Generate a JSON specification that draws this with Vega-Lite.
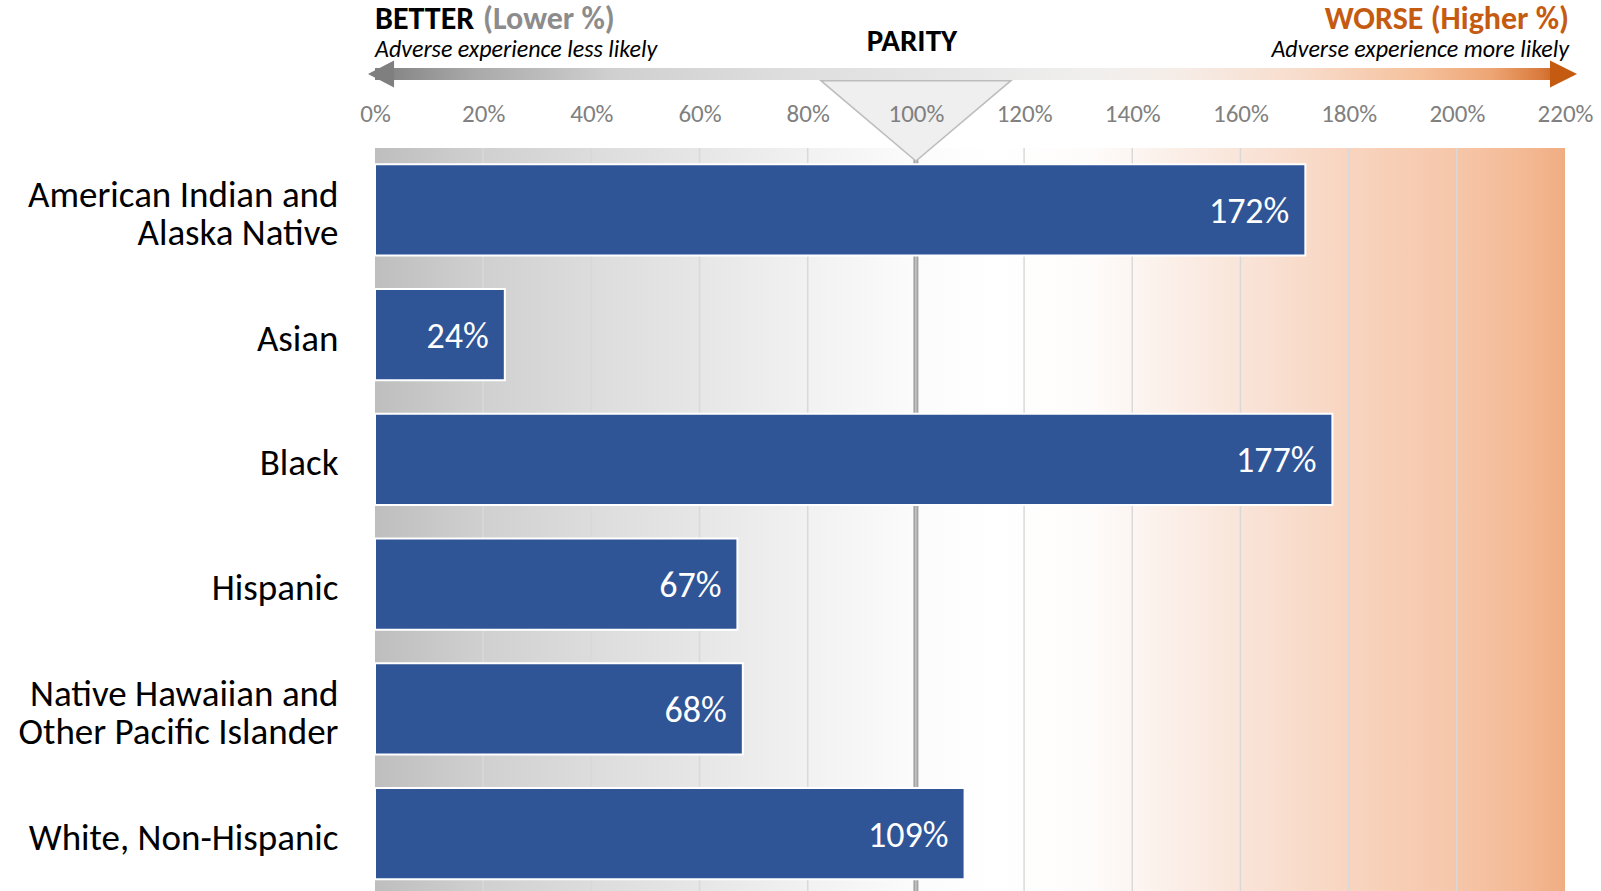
{
  "$schema": "https://vega.github.io/schema/vega-lite/v6.json",
  "width": 1190,
  "height": 743,
  "autosize": {"type": "none"},
  "padding": {"left": 375, "top": 148, "right": 36, "bottom": 0},
  "background": "white",
  "config": {
    "font": "Carlito, Lato, sans-serif",
    "view": {"stroke": null},
    "axisX": {"labelColor": "#808080", "labelFontSize": 25, "ticks": false, "domain": false, "grid": false, "labelPadding": 22, "labelFlush": false, "labelOverlap": false}
  },
  "datasets": {
    "rates": [
      {"group": "American Indian and|Alaska Native", "value": 172, "label": "172%"},
      {"group": "Asian", "value": 24, "label": "24%"},
      {"group": "Black", "value": 177, "label": "177%"},
      {"group": "Hispanic", "value": 67, "label": "67%"},
      {"group": "Native Hawaiian and|Other Pacific Islander", "value": 68, "label": "68%"},
      {"group": "White, Non-Hispanic", "value": 109, "label": "109%"}
    ],
    "span": [{"from": 0, "to": 220}],
    "gridlines": [{"pct": 20}, {"pct": 40}, {"pct": 60}, {"pct": 80}, {"pct": 120}, {"pct": 140}, {"pct": 160}, {"pct": 180}, {"pct": 200}],
    "parity": [{"pct": 100}]
  },
  "layer": [
    {
      "data": {"name": "span"},
      "mark": {
        "type": "rect",
        "fill": {
          "gradient": "linear", "x1": 0, "y1": 0, "x2": 1, "y2": 0,
          "stops": [
            {"offset": 0, "color": "#bebebe"},
            {"offset": 0.09, "color": "#d0d0d0"},
            {"offset": 0.18, "color": "#dcdcdc"},
            {"offset": 0.27, "color": "#e6e6e6"},
            {"offset": 0.36, "color": "#f1f1f1"},
            {"offset": 0.45, "color": "#fbfbfb"},
            {"offset": 0.52, "color": "#ffffff"},
            {"offset": 0.6, "color": "#fefcfb"},
            {"offset": 0.65, "color": "#fcf3ee"},
            {"offset": 0.73, "color": "#f9e4d8"},
            {"offset": 0.82, "color": "#f8d4bf"},
            {"offset": 0.91, "color": "#f6c6a9"},
            {"offset": 0.97, "color": "#f3b892"},
            {"offset": 1, "color": "#f0ad82"}
          ]
        }
      },
      "encoding": {
        "x": {"field": "from", "type": "quantitative", "scale": {"domain": [0, 220], "nice": false},
          "axis": {"orient": "top", "values": [0, 20, 40, 60, 80, 100, 120, 140, 160, 180, 200, 220], "labelExpr": "datum.value + '%'", "title": null, "labelFlush": false, "labelOverlap": false, "zindex": 1}},
        "x2": {"field": "to"}
      }
    },
    {
      "data": {"name": "gridlines"},
      "mark": {"type": "rule", "color": "#d9d9d9", "strokeWidth": 1.5},
      "encoding": {
        "x": {"field": "pct", "type": "quantitative", "scale": {"domain": [0, 220], "nice": false},
          "axis": {"orient": "top", "values": [0, 20, 40, 60, 80, 100, 120, 140, 160, 180, 200, 220], "labelExpr": "datum.value + '%'", "title": null, "labelFlush": false, "labelOverlap": false, "zindex": 1}}
      }
    },
    {
      "data": {"name": "parity"},
      "mark": {"type": "rule", "color": "#a3a3a3", "strokeWidth": 5},
      "encoding": {
        "x": {"field": "pct", "type": "quantitative", "scale": {"domain": [0, 220], "nice": false},
          "axis": {"orient": "top", "values": [0, 20, 40, 60, 80, 100, 120, 140, 160, 180, 200, 220], "labelExpr": "datum.value + '%'", "title": null, "labelFlush": false, "labelOverlap": false, "zindex": 1}}
      }
    },
    {
      "data": {"name": "parity"},
      "mark": {"type": "rule", "color": "#c4c4c4", "strokeWidth": 1.5},
      "encoding": {
        "x": {"field": "pct", "type": "quantitative", "scale": {"domain": [0, 220], "nice": false},
          "axis": {"orient": "top", "values": [0, 20, 40, 60, 80, 100, 120, 140, 160, 180, 200, 220], "labelExpr": "datum.value + '%'", "title": null, "labelFlush": false, "labelOverlap": false, "zindex": 1}}
      }
    },
    {
      "data": {"name": "rates"},
      "mark": {"type": "bar", "color": "#2f5597", "stroke": "white", "strokeWidth": 2},
      "encoding": {
        "y": {
          "field": "group", "type": "nominal", "sort": null,
          "scale": {"type": "band", "paddingInner": 0.27, "paddingOuter": 0.113, "align": 0.58},
          "axis": {
            "labelExpr": "split(datum.label, '|')", "labelFontSize": 37, "labelColor": "black",
            "labelPadding": 37, "ticks": false, "domain": false, "title": null,
            "labelLimit": 600, "labelLineHeight": 38, "labelAlign": "right", "labelBaseline": "middle",
            "labelOffset": {"condition": {"test": "indexof(datum.value, '|') >= 0", "value": -14}, "value": 5}
          }
        },
        "x": {"field": "value", "type": "quantitative", "scale": {"domain": [0, 220], "nice": false},
          "axis": {"orient": "top", "values": [0, 20, 40, 60, 80, 100, 120, 140, 160, 180, 200, 220], "labelExpr": "datum.value + '%'", "title": null, "labelFlush": false, "labelOverlap": false, "zindex": 1}}
      }
    },
    {
      "data": {"name": "rates"},
      "mark": {"type": "text", "align": "right", "baseline": "middle", "dx": -16, "dy": 2, "color": "white", "fontSize": 36},
      "encoding": {
        "y": {"field": "group", "type": "nominal", "sort": null, "scale": {"type": "band", "paddingInner": 0.27, "paddingOuter": 0.113, "align": 0.58}, "axis": null},
        "x": {"field": "value", "type": "quantitative", "scale": {"domain": [0, 220], "nice": false},
          "axis": {"orient": "top", "values": [0, 20, 40, 60, 80, 100, 120, 140, 160, 180, 200, 220], "labelExpr": "datum.value + '%'", "title": null, "labelFlush": false, "labelOverlap": false, "zindex": 1}},
        "text": {"field": "label"}
      }
    },
    {
      "data": {"values": [{"pct": 100, "tier": "arrow"}]},
      "mark": {"type": "point", "shape": "M-1,0.07L1,0.07L0,0.916Z", "size": 36100, "filled": true, "fill": "#efefef", "stroke": "#bdbdbd", "strokeWidth": 1.5, "opacity": 1},
      "encoding": {
        "x": {"field": "pct", "type": "quantitative", "scale": {"domain": [0, 220], "nice": false},
          "axis": {"orient": "top", "values": [0, 20, 40, 60, 80, 100, 120, 140, 160, 180, 200, 220], "labelExpr": "datum.value + '%'", "title": null, "labelFlush": false, "labelOverlap": false, "zindex": 1}},
        "y": {"field": "tier", "type": "nominal", "scale": {"type": "point", "domain": ["heading", "note", "arrow"], "range": [-129, -74], "padding": 0}, "axis": null}
      }
    },
    {
      "data": {"values": [{"pct": 220, "tier": "arrow"}]},
      "mark": {
        "type": "bar", "size": 12,
        "fill": {
          "gradient": "linear", "x1": 0, "y1": 0, "x2": 1, "y2": 0,
          "stops": [
            {"offset": 0, "color": "#7f7f7f"},
            {"offset": 0.08, "color": "#a8a8a8"},
            {"offset": 0.2, "color": "#d0d0d0"},
            {"offset": 0.35, "color": "#dedede"},
            {"offset": 0.5, "color": "#e8e8e8"},
            {"offset": 0.6, "color": "#f0efee"},
            {"offset": 0.68, "color": "#f6ece6"},
            {"offset": 0.78, "color": "#f8dccb"},
            {"offset": 0.88, "color": "#f5c09b"},
            {"offset": 0.94, "color": "#eda472"},
            {"offset": 0.98, "color": "#d97a3c"},
            {"offset": 1, "color": "#c55a11"}
          ]
        }
      },
      "encoding": {
        "x": {"field": "pct", "type": "quantitative", "scale": {"domain": [0, 220], "nice": false},
          "axis": {"orient": "top", "values": [0, 20, 40, 60, 80, 100, 120, 140, 160, 180, 200, 220], "labelExpr": "datum.value + '%'", "title": null, "labelFlush": false, "labelOverlap": false, "zindex": 1}},
        "y": {"field": "tier", "type": "nominal", "scale": {"type": "point", "domain": ["heading", "note", "arrow"], "range": [-129, -74], "padding": 0}, "axis": null}
      }
    },
    {
      "data": {"values": [{"pct": 0, "tier": "arrow"}]},
      "mark": {"type": "point", "shape": "M-0.52,0L1.41,-1L1.41,1Z", "size": 729, "filled": true, "color": "#7f7f7f", "opacity": 1, "strokeWidth": 0},
      "encoding": {
        "x": {"field": "pct", "type": "quantitative", "scale": {"domain": [0, 220], "nice": false},
          "axis": {"orient": "top", "values": [0, 20, 40, 60, 80, 100, 120, 140, 160, 180, 200, 220], "labelExpr": "datum.value + '%'", "title": null, "labelFlush": false, "labelOverlap": false, "zindex": 1}},
        "y": {"field": "tier", "type": "nominal", "scale": {"type": "point", "domain": ["heading", "note", "arrow"], "range": [-129, -74], "padding": 0}, "axis": null}
      }
    },
    {
      "data": {"values": [{"pct": 220, "tier": "arrow"}]},
      "mark": {"type": "point", "shape": "M-1.11,-1L0.89,0L-1.11,1Z", "size": 729, "filled": true, "color": "#c55a11", "opacity": 1, "strokeWidth": 0},
      "encoding": {
        "x": {"field": "pct", "type": "quantitative", "scale": {"domain": [0, 220], "nice": false},
          "axis": {"orient": "top", "values": [0, 20, 40, 60, 80, 100, 120, 140, 160, 180, 200, 220], "labelExpr": "datum.value + '%'", "title": null, "labelFlush": false, "labelOverlap": false, "zindex": 1}},
        "y": {"field": "tier", "type": "nominal", "scale": {"type": "point", "domain": ["heading", "note", "arrow"], "range": [-129, -74], "padding": 0}, "axis": null}
      }
    },
    {
      "data": {"values": [{"text": "BETTER", "pct": 0, "tier": "heading"}]},
      "mark": {"type": "text", "align": "left", "baseline": "middle", "fontSize": 32, "fontWeight": "bold", "color": "black"},
      "encoding": {
        "x": {"field": "pct", "type": "quantitative", "scale": {"domain": [0, 220], "nice": false},
          "axis": {"orient": "top", "values": [0, 20, 40, 60, 80, 100, 120, 140, 160, 180, 200, 220], "labelExpr": "datum.value + '%'", "title": null, "labelFlush": false, "labelOverlap": false, "zindex": 1}},
        "y": {"field": "tier", "type": "nominal", "scale": {"type": "point", "domain": ["heading", "note", "arrow"], "range": [-129, -74], "padding": 0}, "axis": null},
        "text": {"field": "text"}
      }
    },
    {
      "data": {"values": [{"text": "(Lower %)", "pct": 0, "tier": "heading"}]},
      "mark": {"type": "text", "align": "left", "baseline": "middle", "dx": 108, "fontSize": 32, "fontWeight": "bold", "color": "#8c8c8c"},
      "encoding": {
        "x": {"field": "pct", "type": "quantitative", "scale": {"domain": [0, 220], "nice": false},
          "axis": {"orient": "top", "values": [0, 20, 40, 60, 80, 100, 120, 140, 160, 180, 200, 220], "labelExpr": "datum.value + '%'", "title": null, "labelFlush": false, "labelOverlap": false, "zindex": 1}},
        "y": {"field": "tier", "type": "nominal", "scale": {"type": "point", "domain": ["heading", "note", "arrow"], "range": [-129, -74], "padding": 0}, "axis": null},
        "text": {"field": "text"}
      }
    },
    {
      "data": {"values": [{"text": "Adverse experience less likely", "pct": 0, "tier": "note"}]},
      "mark": {"type": "text", "align": "left", "baseline": "middle", "dy": 3, "fontSize": 24, "fontStyle": "italic", "color": "black"},
      "encoding": {
        "x": {"field": "pct", "type": "quantitative", "scale": {"domain": [0, 220], "nice": false},
          "axis": {"orient": "top", "values": [0, 20, 40, 60, 80, 100, 120, 140, 160, 180, 200, 220], "labelExpr": "datum.value + '%'", "title": null, "labelFlush": false, "labelOverlap": false, "zindex": 1}},
        "y": {"field": "tier", "type": "nominal", "scale": {"type": "point", "domain": ["heading", "note", "arrow"], "range": [-129, -74], "padding": 0}, "axis": null},
        "text": {"field": "text"}
      }
    },
    {
      "data": {"values": [{"text": "PARITY", "pct": 100, "tier": "note"}]},
      "mark": {"type": "text", "align": "center", "baseline": "middle", "dx": -4, "dy": -5, "fontSize": 31, "fontWeight": "bold", "color": "black"},
      "encoding": {
        "x": {"field": "pct", "type": "quantitative", "scale": {"domain": [0, 220], "nice": false},
          "axis": {"orient": "top", "values": [0, 20, 40, 60, 80, 100, 120, 140, 160, 180, 200, 220], "labelExpr": "datum.value + '%'", "title": null, "labelFlush": false, "labelOverlap": false, "zindex": 1}},
        "y": {"field": "tier", "type": "nominal", "scale": {"type": "point", "domain": ["heading", "note", "arrow"], "range": [-129, -74], "padding": 0}, "axis": null},
        "text": {"field": "text"}
      }
    },
    {
      "data": {"values": [{"text": "WORSE (Higher %)", "pct": 220, "tier": "heading"}]},
      "mark": {"type": "text", "align": "right", "baseline": "middle", "dx": 4, "fontSize": 32, "fontWeight": "bold", "color": "#c55a11"},
      "encoding": {
        "x": {"field": "pct", "type": "quantitative", "scale": {"domain": [0, 220], "nice": false},
          "axis": {"orient": "top", "values": [0, 20, 40, 60, 80, 100, 120, 140, 160, 180, 200, 220], "labelExpr": "datum.value + '%'", "title": null, "labelFlush": false, "labelOverlap": false, "zindex": 1}},
        "y": {"field": "tier", "type": "nominal", "scale": {"type": "point", "domain": ["heading", "note", "arrow"], "range": [-129, -74], "padding": 0}, "axis": null},
        "text": {"field": "text"}
      }
    },
    {
      "data": {"values": [{"text": "Adverse experience more likely", "pct": 220, "tier": "note"}]},
      "mark": {"type": "text", "align": "right", "baseline": "middle", "dx": 4, "dy": 3, "fontSize": 24, "fontStyle": "italic", "color": "black"},
      "encoding": {
        "x": {"field": "pct", "type": "quantitative", "scale": {"domain": [0, 220], "nice": false},
          "axis": {"orient": "top", "values": [0, 20, 40, 60, 80, 100, 120, 140, 160, 180, 200, 220], "labelExpr": "datum.value + '%'", "title": null, "labelFlush": false, "labelOverlap": false, "zindex": 1}},
        "y": {"field": "tier", "type": "nominal", "scale": {"type": "point", "domain": ["heading", "note", "arrow"], "range": [-129, -74], "padding": 0}, "axis": null},
        "text": {"field": "text"}
      }
    }
  ],
  "resolve": {"scale": {"y": "independent"}}
}
